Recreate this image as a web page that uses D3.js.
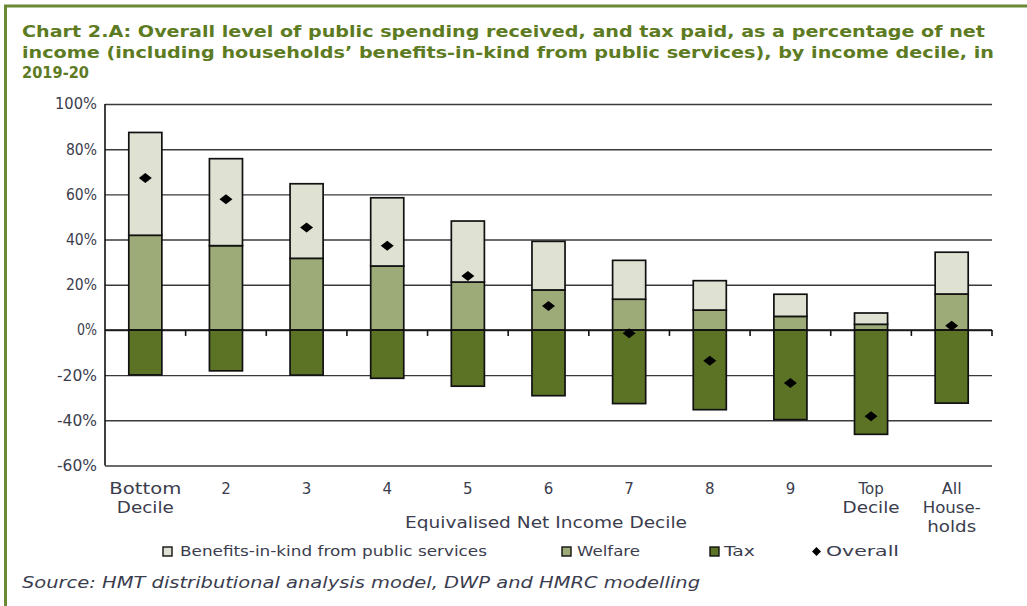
<!DOCTYPE html>
<html>
<head>
<meta charset="utf-8">
<script src="https://cdn.jsdelivr.net/npm/d3@7"></script>
<style>
  html, body { margin: 0; padding: 0; background: #fff; }
  svg { display: block; }
  text { font-family: "DejaVu Sans", Verdana, sans-serif; }
</style>
</head>
<body>
<svg id="chart" width="1027" height="606"></svg>
<script>
// Income deciles (multi-line labels) and the four series, % of net income
const categories = ["Bottom\nDecile", "2", "3", "4", "5", "6", "7", "8", "9", "Top\nDecile", "All\nHouse-\nholds"];
const welfare = [41.9, 37.3, 31.7, 28.3, 21.2, 17.7, 13.6, 8.8, 6.0, 2.5, 15.9];
const benefitsInKind = [45.5, 38.5, 33.0, 30.2, 27.0, 21.5, 17.2, 13.0, 9.8, 5.0, 18.5];
const tax = [-19.9, -18.1, -20.0, -21.4, -24.9, -29.1, -32.6, -35.3, -39.7, -46.2, -32.4];
const overall = [67.3, 57.8, 45.3, 37.3, 23.9, 10.6, -1.5, -13.6, -23.5, -38.2, 1.8];
const yTicks = [-60, -40, -20, 0, 20, 40, 60, 80, 100];
const legendLabels = ["Benefits-in-kind from public services", "Welfare", "Tax", "Overall"];

const colors = { bik: "#dfe2d3", welfare: "#9dab78", tax: "#5c7326" };
const svg = d3.select("#chart");

// page frame
svg.append("line").attr("x1", 4).attr("x2", 1027).attr("y1", 6).attr("y2", 6)
  .attr("stroke", "#6b8935").attr("stroke-width", 3);
svg.append("line").attr("x1", 5.5).attr("x2", 5.5).attr("y1", 5).attr("y2", 606)
  .attr("stroke", "#6b8935").attr("stroke-width", 3);

// title
const titleLines = [
  ["Chart 2.A: Overall level of public spending received, and tax paid, as a percentage of net", 963],
  ["income (including households\u2019 benefits-in-kind from public services), by income decile, in", 972],
  ["2019-20", 67]
];
titleLines.forEach(([t, w], i) => {
  svg.append("text").attr("x", 22).attr("y", 37 + i * 20.5)
    .attr("font-size", 16).attr("font-weight", "bold").attr("fill", "#5d7b22")
    .attr("textLength", w).attr("lengthAdjust", "spacingAndGlyphs").text(t);
});

// scales
const plot = { left: 105, right: 992, top: 104, bottom: 465.5 };
const x = d3.scaleBand().domain(d3.range(categories.length))
  .range([plot.left, plot.right]).paddingInner(0.59).paddingOuter(0.295);
const y = d3.scaleLinear().domain([-60, 100]).range([plot.bottom, plot.top]);

// gridlines
const grid = svg.append("g")
  .attr("transform", `translate(${plot.left},0)`)
  .call(d3.axisLeft(y).tickValues(yTicks).tickSize(-(plot.right - plot.left)).tickFormat(""));
grid.select(".domain").remove();
grid.selectAll(".tick line").attr("stroke", "#3a3a3a").attr("stroke-width", 1.4);

// y tick labels
const yLabelWidths = { "100": 42, "80": 31, "60": 31, "40": 31, "20": 31, "0": 20, "-20": 40, "-40": 40, "-60": 40 };
svg.append("g").selectAll("text").data(yTicks).join("text")
  .attr("x", 97).attr("y", d => y(d)).attr("dy", "0.36em")
  .attr("text-anchor", "end").attr("font-size", 15).attr("fill", "#3b3d4e")
  .attr("textLength", d => yLabelWidths[d]).attr("lengthAdjust", "spacingAndGlyphs")
  .text(d => d + "%");

// stacked bars
const bars = svg.append("g").attr("stroke", "#111").attr("stroke-width", 1.7);
bars.selectAll(".tax").data(tax).join("rect").attr("class", "tax")
  .attr("x", (d, i) => x(i)).attr("width", x.bandwidth())
  .attr("y", y(0)).attr("height", d => y(d) - y(0)).attr("fill", colors.tax);
bars.selectAll(".welfare").data(welfare).join("rect").attr("class", "welfare")
  .attr("x", (d, i) => x(i)).attr("width", x.bandwidth())
  .attr("y", d => y(d)).attr("height", d => y(0) - y(d)).attr("fill", colors.welfare);
bars.selectAll(".bik").data(benefitsInKind).join("rect").attr("class", "bik")
  .attr("x", (d, i) => x(i)).attr("width", x.bandwidth())
  .attr("y", (d, i) => y(welfare[i] + d)).attr("height", (d, i) => y(welfare[i]) - y(welfare[i] + d))
  .attr("fill", colors.bik);

// x axis along zero, ticks at category boundaries
const step = x.step();
const xAxis = svg.append("g").attr("stroke", "#111").attr("stroke-width", 1.6);
xAxis.append("line").attr("x1", plot.left).attr("x2", plot.right).attr("y1", y(0)).attr("y2", y(0));
xAxis.selectAll(".tk").data(d3.range(1, categories.length + 1)).join("line").attr("class", "tk")
  .attr("x1", i => plot.left + i * step).attr("x2", i => plot.left + i * step)
  .attr("y1", y(0)).attr("y2", y(0) + 6);
// left axis line
svg.append("line").attr("x1", plot.left).attr("x2", plot.left).attr("y1", plot.top).attr("y2", plot.bottom)
  .attr("stroke", "#111").attr("stroke-width", 1.6);

// overall markers
const diamond = "M0,-5 L6.5,0 L0,5 L-6.5,0 Z";
svg.append("g").selectAll("path").data(overall).join("path")
  .attr("transform", (d, i) => `translate(${x(i) + x.bandwidth() / 2},${y(d)})`)
  .attr("d", diamond).attr("fill", "#000");

// category labels
const labelWidths = { "Bottom": 72, "Decile": 57, "All": 20, "House-": 58, "holds": 49 };
const catG = svg.append("g");
categories.forEach((c, i) => {
  c.split("\n").forEach((line, j) => {
    const t = catG.append("text")
      .attr("x", x(i) + x.bandwidth() / 2).attr("y", 494 + j * 19)
      .attr("text-anchor", "middle").attr("font-size", 15).attr("fill", "#3b3d4e").text(line);
    if (labelWidths[line]) t.attr("textLength", labelWidths[line]).attr("lengthAdjust", "spacingAndGlyphs");
  });
});

// axis title
svg.append("text").attr("x", 546).attr("y", 528).attr("text-anchor", "middle")
  .attr("font-size", 15).attr("fill", "#3b3d4e")
  .attr("textLength", 282).attr("lengthAdjust", "spacingAndGlyphs")
  .text("Equivalised Net Income Decile");

// legend
const legendItems = [
  { label: legendLabels[0], sx: 163, tx: 180, w: 307, fill: colors.bik },
  { label: legendLabels[1], sx: 562, tx: 577, w: 63, fill: colors.welfare },
  { label: legendLabels[2], sx: 710, tx: 724, w: 31, fill: colors.tax },
  { label: legendLabels[3], sx: 812, tx: 826, w: 73, fill: null }
];
const lg = svg.append("g");
legendItems.forEach(it => {
  if (it.fill) {
    lg.append("rect").attr("x", it.sx).attr("y", 547).attr("width", 9).attr("height", 9)
      .attr("fill", it.fill).attr("stroke", "#111").attr("stroke-width", 1.4);
  } else {
    lg.append("path").attr("transform", `translate(${it.sx + 4.5},551.5)`)
      .attr("d", "M0,-4.5 L4.5,0 L0,4.5 L-4.5,0 Z").attr("fill", "#000");
  }
  lg.append("text").attr("x", it.tx).attr("y", 556).attr("font-size", 14).attr("fill", "#3b3d4e")
    .attr("textLength", it.w).attr("lengthAdjust", "spacingAndGlyphs").text(it.label);
});

// source note
svg.append("text").attr("x", 22).attr("y", 588).attr("font-size", 16).attr("font-style", "italic")
  .attr("fill", "#3b3d4e").attr("textLength", 678).attr("lengthAdjust", "spacingAndGlyphs")
  .text("Source: HMT distributional analysis model, DWP and HMRC modelling");
</script>
</body>
</html>
